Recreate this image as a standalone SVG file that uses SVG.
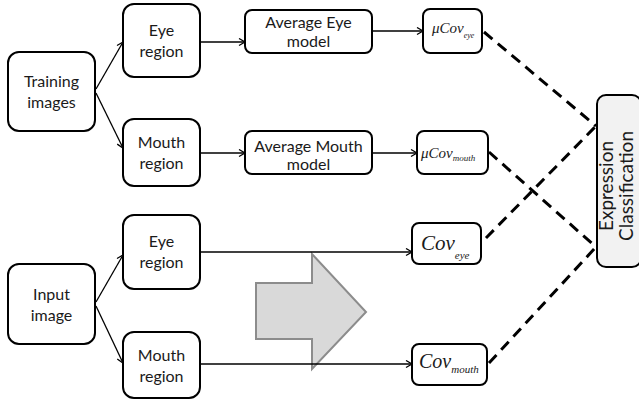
<svg xmlns="http://www.w3.org/2000/svg" width="639" height="401" viewBox="0 0 639 401">
<defs>
<marker id="arr" markerUnits="userSpaceOnUse" markerWidth="10" markerHeight="10" refX="7" refY="4" orient="auto">
<path d="M1,0.5 L7,4 L1,7.5" fill="none" stroke="#000" stroke-width="1.3"/>
</marker>
<style>
.box{fill:#fff;stroke:#000;stroke-width:2}
.lbl{font-family:Lato,"Open Sans",sans-serif;font-size:16px;fill:#1a1a1a;text-anchor:middle}
.ml{font-family:"Liberation Serif","DejaVu Serif",serif;font-style:italic;fill:#1a1a1a}
.con{fill:none;stroke:#000;stroke-width:1.3;marker-end:url(#arr)}
.dash{fill:none;stroke:#000;stroke-width:3;stroke-dasharray:11 7}
.vt{font-family:Lato,"Open Sans",sans-serif;font-size:19px;fill:#1a1a1a;text-anchor:middle}
</style>
</defs>
<rect width="639" height="401" fill="#fff"/>
<g id="big-arrow">
<polygon points="256,283 312,283 312,254 366,312 312,369 312,339 256,339" fill="#d9d9d9" stroke="#8c8c8c" stroke-width="2"/>
</g>
<g id="connectors">
<line class="con" x1="96" y1="89" x2="123" y2="42"/>
<line class="con" x1="96" y1="93" x2="123" y2="148"/>
<line class="con" x1="200" y1="42" x2="245" y2="42"/>
<line class="con" x1="200" y1="153" x2="245" y2="153"/>
<line class="con" x1="372" y1="31" x2="423" y2="31"/>
<line class="con" x1="372" y1="153" x2="417" y2="153"/>
<line class="con" x1="96" y1="302" x2="123" y2="255"/>
<line class="con" x1="96" y1="306" x2="123" y2="363"/>
<line class="con" x1="200" y1="252" x2="412" y2="252"/>
<line class="con" x1="200" y1="364" x2="412" y2="364"/>
<line class="dash" x1="484" y1="32" x2="596" y2="126"/>
<line class="dash" x1="489" y1="152" x2="596" y2="247"/>
<line class="dash" x1="486" y1="238" x2="596" y2="126"/>
<line class="dash" x1="489" y1="363" x2="596" y2="247"/>
</g>
<g id="training-images">
<rect class="box" x="8" y="52" width="87" height="79" rx="11"/>
<text class="lbl" x="51.5" y="87">Training</text>
<text class="lbl" x="51.5" y="108">images</text>
</g>
<g id="eye-region-1">
<rect class="box" x="123" y="4" width="77" height="73" rx="11"/>
<text class="lbl" x="161.5" y="36">Eye</text>
<text class="lbl" x="161.5" y="57">region</text>
</g>
<g id="mouth-region-1">
<rect class="box" x="123" y="119" width="77" height="67" rx="11"/>
<text class="lbl" x="161.5" y="148">Mouth</text>
<text class="lbl" x="161.5" y="169">region</text>
</g>
<g id="avg-eye-model">
<rect class="box" x="245" y="10" width="127" height="43" rx="7"/>
<text class="lbl" x="308.5" y="28">Average Eye</text>
<text class="lbl" x="308.5" y="47">model</text>
</g>
<g id="avg-mouth-model">
<rect class="box" x="245" y="131" width="127" height="43" rx="7"/>
<text class="lbl" x="308.5" y="152">Average Mouth</text>
<text class="lbl" x="308.5" y="170">model</text>
</g>
<g id="mucov-eye">
<rect class="box" x="423" y="9" width="59" height="44" rx="7"/>
<text class="ml" x="432" y="33" font-size="15">μCov<tspan font-size="8" dy="5">eye</tspan></text>
</g>
<g id="mucov-mouth">
<rect class="box" x="417" y="131" width="71" height="43" rx="7"/>
<text class="ml" x="421" y="158" font-size="15">μCov<tspan font-size="9" dy="3">mouth</tspan></text>
</g>
<g id="input-image">
<rect class="box" x="8" y="264" width="87" height="80" rx="11"/>
<text class="lbl" x="51.5" y="300">Input</text>
<text class="lbl" x="51.5" y="321">image</text>
</g>
<g id="eye-region-2">
<rect class="box" x="123" y="215" width="77" height="74" rx="11"/>
<text class="lbl" x="161.5" y="247">Eye</text>
<text class="lbl" x="161.5" y="268">region</text>
</g>
<g id="mouth-region-2">
<rect class="box" x="123" y="332" width="77" height="66" rx="11"/>
<text class="lbl" x="161.5" y="361">Mouth</text>
<text class="lbl" x="161.5" y="382">region</text>
</g>
<g id="cov-eye">
<rect class="box" x="412" y="223" width="69" height="41" rx="7"/>
<text class="ml" x="421" y="250" font-size="21">Cov<tspan font-size="11" dy="9">eye</tspan></text>
</g>
<g id="cov-mouth">
<rect class="box" x="412" y="344" width="75" height="41" rx="7"/>
<text class="ml" x="419" y="368" font-size="20">Cov<tspan font-size="11" dy="5">mouth</tspan></text>
</g>
<g id="expression-classification">
<rect x="597" y="95" width="44" height="172" rx="9" fill="#f2f2f2" stroke="#000" stroke-width="2"/>
<text class="vt" transform="translate(613,186) rotate(-90)">Expression</text>
<text class="vt" transform="translate(633,186) rotate(-90)">Classification</text>
</g>
</svg>
